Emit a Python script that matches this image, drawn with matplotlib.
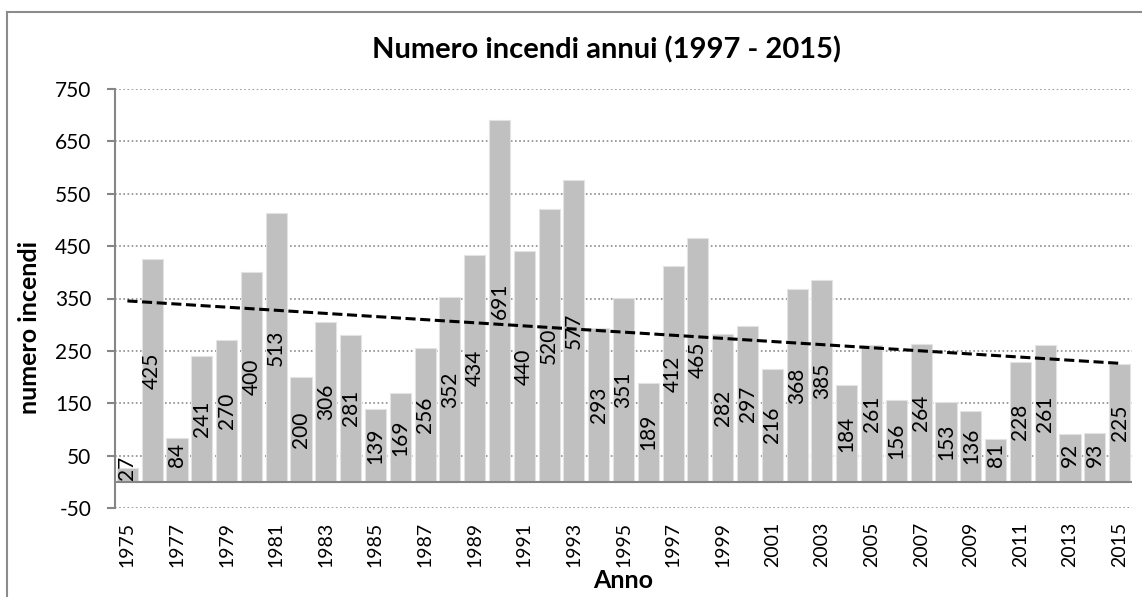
import numpy as np
import matplotlib
matplotlib.use("Agg")
import matplotlib.pyplot as plt
from matplotlib.lines import Line2D

years = list(range(1975, 2016))
values = [27, 425, 84, 241, 270, 400, 513, 200, 306, 281, 139, 169, 256, 352, 434,
          691, 440, 520, 577, 293, 351, 189, 412, 465, 282, 297, 216, 368, 385, 184,
          261, 156, 264, 153, 136, 81, 228, 261, 92, 93, 225]
yticks = list(range(-50, 751, 100))
xtick_years = list(range(1975, 2016, 2))

title = "Numero incendi annui (1997 - 2015)"
ylabel = "numero incendi"
xlabel = "Anno"

plt.rcParams['font.family'] = ['Lato', 'DejaVu Sans']

W, H = 1142, 597
fig = plt.figure(figsize=(W / 100, H / 100), dpi=100)

def fx(px):
    return px / W

def fy(py):
    return 1 - py / H

ax = fig.add_axes([fx(115), fy(508), fx(1132) - fx(115), fy(89) - fy(508)])

x = np.arange(len(years))
ax.bar(x, values, width=0.85, color='#C0C0C0', edgecolor='#E3E3E3', linewidth=0.8, zorder=2)

# trend line (least squares)
coef = np.polyfit(x, values, 1)
ax.plot(x, np.polyval(coef, x), color='black', linewidth=2.2, dashes=(3.3, 1.5), zorder=4)

# data labels
FS = 15
for xi, v in zip(x, values):
    yl = max(v / 2, min(v, 52))
    ax.text(xi, yl, str(v), rotation=90, ha='center', va='center', fontsize=FS,
            color='black', zorder=5)

ax.set_xlim(-0.5, len(years) - 0.5)
ax.set_ylim(-50, 750)
ax.set_yticks(yticks)
ax.set_yticklabels([str(t) for t in yticks])
ax.yaxis.grid(True, linestyle=(0, (1, 1.5)), color='#8C8C8C', linewidth=1.2, zorder=0)
ax.set_axisbelow(True)

ax.set_xticks([years.index(y) for y in xtick_years])
ax.set_xticklabels([str(y) for y in xtick_years], rotation=90)

for s in ['top', 'right', 'bottom']:
    ax.spines[s].set_visible(False)
ax.spines['left'].set_color('#868686')
ax.spines['left'].set_linewidth(1.5)
ax.axhline(0, color='#868686', linewidth=1.5, zorder=3)

ax.tick_params(axis='y', length=6, width=1.5, color='#868686', pad=11, labelsize=FS)
ax.tick_params(axis='x', length=0, pad=10, labelsize=14)

fig.text(fx(607), fy(50), title, ha='center', va='center', fontsize=21, fontweight='bold')
fig.text(fx(30), fy(327), ylabel, ha='center', va='center', rotation=90, fontsize=18, fontweight='bold')
fig.text(fx(623), fy(581), xlabel, ha='center', va='center', fontsize=18, fontweight='bold')

# chart border (partly cut off in the reference)
fig.add_artist(Line2D([fx(7), fx(7)], [fy(12), 0], transform=fig.transFigure, color='#8C8C8C', linewidth=1.5))
fig.add_artist(Line2D([fx(7), 1], [fy(12), fy(12)], transform=fig.transFigure, color='#8C8C8C', linewidth=1.5))

fig.savefig('out.png', dpi=100)
